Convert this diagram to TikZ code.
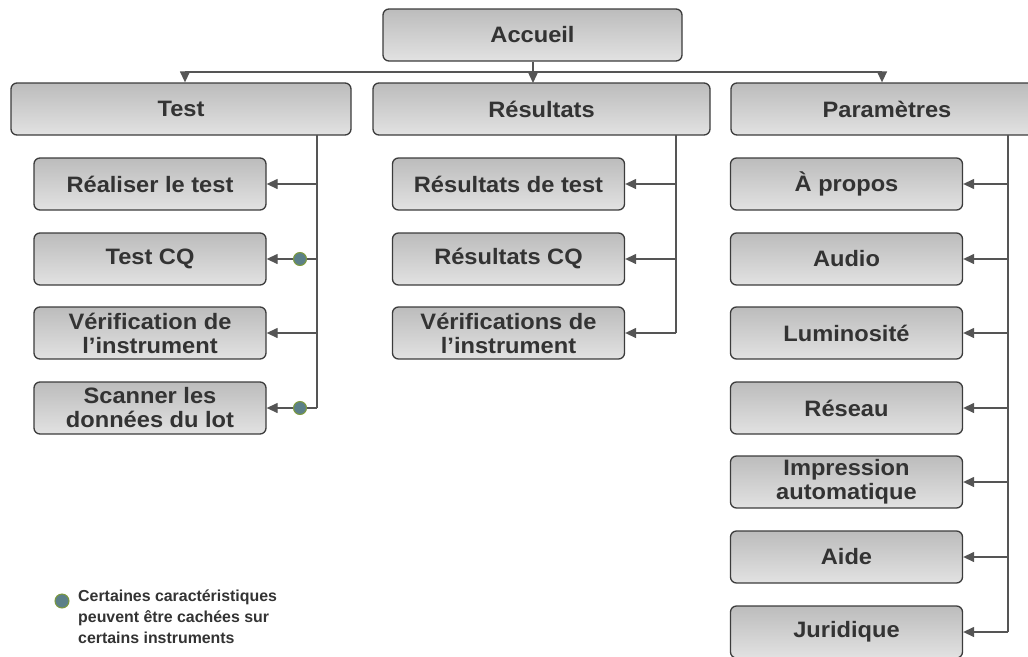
\documentclass[tikz,border=0pt]{standalone}
\usepackage{fontspec}
\setmainfont{Liberation Sans}
\newfontfamily\boxfont[FakeStretch=1.06]{Liberation Sans}
\usetikzlibrary{arrows.meta}
\definecolor{txt}{HTML}{333333}
\definecolor{edge}{HTML}{3C3C3C}
\definecolor{conn}{HTML}{555555}
\definecolor{topc}{HTML}{BCBCBC}
\definecolor{botc}{HTML}{E2E2E2}
\definecolor{dotfill}{HTML}{5C8088}
\definecolor{dotedge}{HTML}{7D9A3C}
\tikzset{
  box/.style={draw=edge, line width=1.3pt, rounded corners=6pt, top color=topc, bottom color=botc,
    inner sep=0pt, align=center, text=txt, font=\boxfont\fontsize{22.3}{24}\selectfont\bfseries},
  topbox/.style={box, minimum height=52pt},
  child/.style={box, minimum width=232pt, minimum height=52pt},
  link/.style={draw=conn, line width=1.3pt},
  arr/.style={link, -{Triangle[length=11pt,width=10pt]}},
  dotmark/.style={circle, fill=dotfill, draw=dotedge, line width=1pt, minimum size=13pt, inner sep=0pt},
}
\begin{document}
\begin{tikzpicture}[x=1pt,y=-1pt]
\useasboundingbox (0,0) rectangle (1028,656);
\clip (0,0) rectangle (1028,656);
% top level
\node[topbox, minimum width=299pt] (acc) at (532.5,35) {Accueil};
\node[topbox, minimum width=340pt] (test) at (181,109) {Test};
\node[topbox, minimum width=337pt] (res) at (541.5,109) {Résultats};
\node[topbox, minimum width=312pt] (par) at (887,109) {Paramètres};
\coordinate (hl) at (185,72);
\coordinate (hr) at (882,72);
\draw[link] (hl) -- (hr);
\draw[arr] (hl) -- (hl |- test.north);
\draw[arr] (hr) -- (hr |- par.north);
\draw[arr] (acc.south -| 533,0) -- (533,83);
% Test children
\node[child] (real) at (150,184) {Réaliser le test};
\node[child] (tcq) at (150,259) {Test CQ};
\node[child] (verif) at (150,333) {Vérification de\\l’instrument};
\node[child] (scan) at (150,408) {Scanner les\\données du lot};
\coordinate (ts) at (317,135);
\draw[link] (ts) -- (ts |- scan.east);
\foreach \n in {real,tcq,verif,scan} \draw[arr] (ts |- \n.east) -- (\n.east);
\node[dotmark] (d1) at (300,259) {};
\node[dotmark] (d2) at (300,408) {};
% Résultats children
\node[child] (rtest) at (508.5,184) {Résultats de test};
\node[child] (rcq) at (508.5,259) {Résultats CQ};
\node[child] (rverif) at (508.5,333) {Vérifications de\\l’instrument};
\coordinate (rs) at (676,135);
\draw[link] (rs) -- (rs |- rverif.east);
\foreach \n in {rtest,rcq,rverif} \draw[arr] (rs |- \n.east) -- (\n.east);
% Paramètres children
\node[child] (apropos) at (846.5,184) {À propos};
\node[child] (audio) at (846.5,259) {Audio};
\node[child] (lum) at (846.5,333) {Luminosité};
\node[child] (reseau) at (846.5,408) {Réseau};
\node[child] (impr) at (846.5,482) {Impression\\automatique};
\node[child] (aide) at (846.5,557) {Aide};
\node[child] (jur) at (846.5,632) {Juridique};
\coordinate (ps) at (1008,135);
\draw[link] (ps) -- (ps |- jur.east);
\foreach \n in {apropos,audio,lum,reseau,impr,aide,jur} \draw[arr] (ps |- \n.east) -- (\n.east);
% legend
\node[dotmark, minimum size=14pt] (ld) at (62,601) {};
\node[anchor=north west, align=left, text=txt, inner sep=0pt,
  font=\fontsize{15.9}{21}\selectfont\bfseries] (lt) at (78,590) {Certaines caractéristiques\\peuvent être cachées sur\\certains instruments};
\end{tikzpicture}
\end{document}
